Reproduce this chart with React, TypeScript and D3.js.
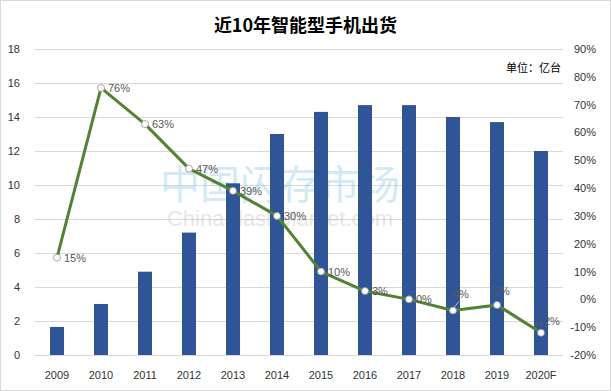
import React, { useEffect, useRef } from "react";
import * as d3 from "d3";

const years = ["2009", "2010", "2011", "2012", "2013", "2014", "2015", "2016", "2017", "2018", "2019", "2020F"];
const shipments = [1.65, 3.0, 4.9, 7.2, 10.1, 13.0, 14.3, 14.7, 14.7, 14.0, 13.7, 12.0];
const growth = [15, 76, 63, 47, 39, 30, 10, 3, 0, -4, -2, -12];
const leftTicks = [0, 2, 4, 6, 8, 10, 12, 14, 16, 18];
const rightTicks = [-20, -10, 0, 10, 20, 30, 40, 50, 60, 70, 80, 90];

function App() {
  const svgRef = useRef<SVGSVGElement>(null);

  useEffect(() => {
    const W = 611;
    const H = 391;
    const margin = { top: 49, right: 48, bottom: 36, left: 35 };
    const width = W - margin.left - margin.right;
    const height = H - margin.top - margin.bottom;
    const font = "'Liberation Sans', Arial, sans-serif";

    const root = d3.select(svgRef.current).attr("width", W).attr("height", H);
    root.selectAll("*").remove();

    root
      .append("rect")
      .attr("x", 0.5)
      .attr("y", 0.5)
      .attr("width", W - 1)
      .attr("height", H - 1)
      .attr("fill", "#fff")
      .attr("stroke", "#d9d9d9");

    // title
    root
      .append("text")
      .attr("x", W / 2)
      .attr("y", 32)
      .attr("text-anchor", "middle")
      .attr("font-family", "'Noto Sans CJK SC', sans-serif")
      .attr("font-weight", "bold")
      .attr("font-size", 18)
      .attr("fill", "#000")
      .text("近10年智能型手机出货");

    const svg = root.append("g").attr("transform", `translate(${margin.left}, ${margin.top})`);

    const x = d3.scaleBand().domain(years).range([0, width]);
    const y = d3.scaleLinear().domain([0, 18]).range([height, 0]);
    const y2 = d3.scaleLinear().domain([-20, 90]).range([height, 0]);

    // grid lines
    svg
      .append("g")
      .selectAll("line")
      .data(leftTicks)
      .enter()
      .append("line")
      .attr("x1", 0)
      .attr("x2", width)
      .attr("y1", (d) => Math.round(y(d)) + 0.5)
      .attr("y2", (d) => Math.round(y(d)) + 0.5)
      .attr("stroke", "#d9d9d9");

    // left labels
    svg
      .append("g")
      .selectAll("text")
      .data(leftTicks)
      .enter()
      .append("text")
      .attr("x", -15)
      .attr("y", (d) => y(d) + 4)
      .attr("text-anchor", "end")
      .attr("font-family", font)
      .attr("font-size", 11)
      .attr("fill", "#333")
      .text((d) => d);

    // right labels
    svg
      .append("g")
      .selectAll("text")
      .data(rightTicks)
      .enter()
      .append("text")
      .attr("x", width + 33)
      .attr("y", (d) => y2(d) + 4)
      .attr("text-anchor", "end")
      .attr("font-family", font)
      .attr("font-size", 11)
      .attr("fill", "#333")
      .text((d) => d + "%");

    // x labels
    svg
      .append("g")
      .selectAll("text")
      .data(years)
      .enter()
      .append("text")
      .attr("x", (d) => x(d)! + x.bandwidth() / 2)
      .attr("y", height + 24)
      .attr("text-anchor", "middle")
      .attr("font-family", font)
      .attr("font-size", 11)
      .attr("fill", "#333")
      .text((d) => d);

    // unit
    svg
      .append("text")
      .attr("x", width - 2)
      .attr("y", 23)
      .attr("text-anchor", "end")
      .attr("font-family", "'Noto Sans CJK SC', sans-serif")
      .attr("font-size", 11)
      .attr("fill", "#000")
      .text("单位：亿台");

    // watermark (behind the bars)
    const wm = svg.append("g").attr("opacity", 0.3);
    wm.append("text")
      .attr("x", 245)
      .attr("y", 150)
      .attr("text-anchor", "middle")
      .attr("font-family", "'Noto Sans CJK SC', sans-serif")
      .attr("font-size", 40)
      .attr("fill", "#6bbbe3")
      .text("中国闪存市场");
    wm.append("text")
      .attr("x", 245)
      .attr("y", 177)
      .attr("text-anchor", "middle")
      .attr("font-family", font)
      .attr("font-size", 22)
      .attr("fill", "#b0b0b0")
      .text("ChinaFlashMarket.com");

    // bars
    const barW = 14;
    svg
      .append("g")
      .selectAll("rect")
      .data(shipments)
      .enter()
      .append("rect")
      .attr("x", (d, i) => x(years[i])! + x.bandwidth() / 2 - barW / 2)
      .attr("y", (d) => y(d))
      .attr("width", barW)
      .attr("height", (d) => height - y(d))
      .attr("fill", "#2f5597");

    // line
    const cx = (i: number) => x(years[i])! + x.bandwidth() / 2;
    const line = d3
      .line<number>()
      .x((d, i) => cx(i))
      .y((d) => y2(d));

    svg
      .append("path")
      .datum(growth)
      .attr("d", line)
      .attr("fill", "none")
      .attr("stroke", "#548235")
      .attr("stroke-width", 3)
      .attr("stroke-linejoin", "round");

    svg
      .append("g")
      .selectAll("circle")
      .data(growth)
      .enter()
      .append("circle")
      .attr("cx", (d, i) => cx(i))
      .attr("cy", (d) => y2(d))
      .attr("r", 3.5)
      .attr("fill", "#fff")
      .attr("stroke", "#8c8c8c")
      .attr("stroke-width", 0.75);

    // data labels: most sit right of the point, the last three above it
    const labelOffset = [
      [7, 4], [7, 4], [7, 4], [7, 4], [7, 4], [7, 4], [7, 4], [7, 4], [7, 4],
      [6, -12], [3, -10], [6, -8],
    ];
    const anchorFor = (i: number) => (i >= 9 ? "middle" : "start");

    // leader line for 2018 label
    svg
      .append("line")
      .attr("x1", cx(9) + 1)
      .attr("y1", y2(growth[9]) - 3)
      .attr("x2", cx(9) + 6)
      .attr("y2", y2(growth[9]) - 9)
      .attr("stroke", "#bfbfbf");

    svg
      .append("g")
      .selectAll("text")
      .data(growth)
      .enter()
      .append("text")
      .attr("x", (d, i) => cx(i) + labelOffset[i][0])
      .attr("y", (d, i) => y2(d) + labelOffset[i][1])
      .attr("text-anchor", (d, i) => anchorFor(i))
      .attr("font-family", font)
      .attr("font-size", 11)
      .attr("fill", "#595959")
      .text((d) => d + "%");
  }, []);

  return (
    <div style={{ position: "absolute", left: 0, top: 0 }}>
      <svg ref={svgRef}></svg>
    </div>
  );
}

export default App;
